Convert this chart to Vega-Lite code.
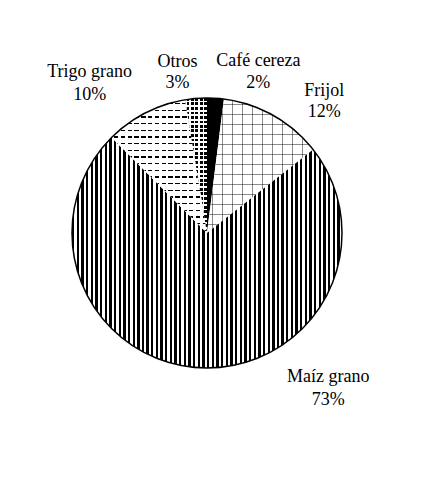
{
  "$schema": "https://vega.github.io/schema/vega-lite/v6.json",
  "autosize": "none",
  "width": 414,
  "height": 466,
  "padding": {"left": 0, "top": 0, "right": 31, "bottom": 20},
  "background": "white",
  "config": {"view": {"stroke": null}},
  "data": {"values": [
    {"cat": "Café cereza", "share": 0.02, "orden": 1},
    {"cat": "Frijol", "share": 0.124, "orden": 2},
    {"cat": "Maíz grano", "share": 0.731, "orden": 3},
    {"cat": "Trigo grano", "share": 0.099, "orden": 4},
    {"cat": "Otros", "share": 0.026, "orden": 5}
  ]},
  "layer": [
    {
      "mark": {"type": "arc", "outerRadius": 135},
      "encoding": {
        "theta": {"field": "share", "type": "quantitative", "stack": true},
        "order": {"field": "orden", "type": "quantitative"},
        "detail": {"field": "cat", "type": "nominal"},
        "fill": {
          "condition": [
            {"test": "datum.cat === 'Café cereza'", "value": "#000"},
            {"test": "datum.cat === 'Maíz grano'", "value": {"gradient": "linear", "x1": 0, "y1": 0, "x2": 1, "y2": 0, "stops": [
              {"offset": 0, "color": "#000"}, {"offset": 0.00862, "color": "#000"}, {"offset": 0.00862, "color": "#fff"}, {"offset": 0.01724, "color": "#fff"},
              {"offset": 0.01724, "color": "#000"}, {"offset": 0.02586, "color": "#000"}, {"offset": 0.02586, "color": "#fff"}, {"offset": 0.03448, "color": "#fff"},
              {"offset": 0.03448, "color": "#000"}, {"offset": 0.0431, "color": "#000"}, {"offset": 0.0431, "color": "#fff"}, {"offset": 0.05172, "color": "#fff"},
              {"offset": 0.05172, "color": "#000"}, {"offset": 0.06034, "color": "#000"}, {"offset": 0.06034, "color": "#fff"}, {"offset": 0.06897, "color": "#fff"},
              {"offset": 0.06897, "color": "#000"}, {"offset": 0.07759, "color": "#000"}, {"offset": 0.07759, "color": "#fff"}, {"offset": 0.08621, "color": "#fff"},
              {"offset": 0.08621, "color": "#000"}, {"offset": 0.09483, "color": "#000"}, {"offset": 0.09483, "color": "#fff"}, {"offset": 0.10345, "color": "#fff"},
              {"offset": 0.10345, "color": "#000"}, {"offset": 0.11207, "color": "#000"}, {"offset": 0.11207, "color": "#fff"}, {"offset": 0.12069, "color": "#fff"},
              {"offset": 0.12069, "color": "#000"}, {"offset": 0.12931, "color": "#000"}, {"offset": 0.12931, "color": "#fff"}, {"offset": 0.13793, "color": "#fff"},
              {"offset": 0.13793, "color": "#000"}, {"offset": 0.14655, "color": "#000"}, {"offset": 0.14655, "color": "#fff"}, {"offset": 0.15517, "color": "#fff"},
              {"offset": 0.15517, "color": "#000"}, {"offset": 0.16379, "color": "#000"}, {"offset": 0.16379, "color": "#fff"}, {"offset": 0.17241, "color": "#fff"},
              {"offset": 0.17241, "color": "#000"}, {"offset": 0.18103, "color": "#000"}, {"offset": 0.18103, "color": "#fff"}, {"offset": 0.18966, "color": "#fff"},
              {"offset": 0.18966, "color": "#000"}, {"offset": 0.19828, "color": "#000"}, {"offset": 0.19828, "color": "#fff"}, {"offset": 0.2069, "color": "#fff"},
              {"offset": 0.2069, "color": "#000"}, {"offset": 0.21552, "color": "#000"}, {"offset": 0.21552, "color": "#fff"}, {"offset": 0.22414, "color": "#fff"},
              {"offset": 0.22414, "color": "#000"}, {"offset": 0.23276, "color": "#000"}, {"offset": 0.23276, "color": "#fff"}, {"offset": 0.24138, "color": "#fff"},
              {"offset": 0.24138, "color": "#000"}, {"offset": 0.25, "color": "#000"}, {"offset": 0.25, "color": "#fff"}, {"offset": 0.25862, "color": "#fff"},
              {"offset": 0.25862, "color": "#000"}, {"offset": 0.26724, "color": "#000"}, {"offset": 0.26724, "color": "#fff"}, {"offset": 0.27586, "color": "#fff"},
              {"offset": 0.27586, "color": "#000"}, {"offset": 0.28448, "color": "#000"}, {"offset": 0.28448, "color": "#fff"}, {"offset": 0.2931, "color": "#fff"},
              {"offset": 0.2931, "color": "#000"}, {"offset": 0.30172, "color": "#000"}, {"offset": 0.30172, "color": "#fff"}, {"offset": 0.31034, "color": "#fff"},
              {"offset": 0.31034, "color": "#000"}, {"offset": 0.31897, "color": "#000"}, {"offset": 0.31897, "color": "#fff"}, {"offset": 0.32759, "color": "#fff"},
              {"offset": 0.32759, "color": "#000"}, {"offset": 0.33621, "color": "#000"}, {"offset": 0.33621, "color": "#fff"}, {"offset": 0.34483, "color": "#fff"},
              {"offset": 0.34483, "color": "#000"}, {"offset": 0.35345, "color": "#000"}, {"offset": 0.35345, "color": "#fff"}, {"offset": 0.36207, "color": "#fff"},
              {"offset": 0.36207, "color": "#000"}, {"offset": 0.37069, "color": "#000"}, {"offset": 0.37069, "color": "#fff"}, {"offset": 0.37931, "color": "#fff"},
              {"offset": 0.37931, "color": "#000"}, {"offset": 0.38793, "color": "#000"}, {"offset": 0.38793, "color": "#fff"}, {"offset": 0.39655, "color": "#fff"},
              {"offset": 0.39655, "color": "#000"}, {"offset": 0.40517, "color": "#000"}, {"offset": 0.40517, "color": "#fff"}, {"offset": 0.41379, "color": "#fff"},
              {"offset": 0.41379, "color": "#000"}, {"offset": 0.42241, "color": "#000"}, {"offset": 0.42241, "color": "#fff"}, {"offset": 0.43103, "color": "#fff"},
              {"offset": 0.43103, "color": "#000"}, {"offset": 0.43966, "color": "#000"}, {"offset": 0.43966, "color": "#fff"}, {"offset": 0.44828, "color": "#fff"},
              {"offset": 0.44828, "color": "#000"}, {"offset": 0.4569, "color": "#000"}, {"offset": 0.4569, "color": "#fff"}, {"offset": 0.46552, "color": "#fff"},
              {"offset": 0.46552, "color": "#000"}, {"offset": 0.47414, "color": "#000"}, {"offset": 0.47414, "color": "#fff"}, {"offset": 0.48276, "color": "#fff"},
              {"offset": 0.48276, "color": "#000"}, {"offset": 0.49138, "color": "#000"}, {"offset": 0.49138, "color": "#fff"}, {"offset": 0.5, "color": "#fff"},
              {"offset": 0.5, "color": "#000"}, {"offset": 0.50862, "color": "#000"}, {"offset": 0.50862, "color": "#fff"}, {"offset": 0.51724, "color": "#fff"},
              {"offset": 0.51724, "color": "#000"}, {"offset": 0.52586, "color": "#000"}, {"offset": 0.52586, "color": "#fff"}, {"offset": 0.53448, "color": "#fff"},
              {"offset": 0.53448, "color": "#000"}, {"offset": 0.5431, "color": "#000"}, {"offset": 0.5431, "color": "#fff"}, {"offset": 0.55172, "color": "#fff"},
              {"offset": 0.55172, "color": "#000"}, {"offset": 0.56034, "color": "#000"}, {"offset": 0.56034, "color": "#fff"}, {"offset": 0.56897, "color": "#fff"},
              {"offset": 0.56897, "color": "#000"}, {"offset": 0.57759, "color": "#000"}, {"offset": 0.57759, "color": "#fff"}, {"offset": 0.58621, "color": "#fff"},
              {"offset": 0.58621, "color": "#000"}, {"offset": 0.59483, "color": "#000"}, {"offset": 0.59483, "color": "#fff"}, {"offset": 0.60345, "color": "#fff"},
              {"offset": 0.60345, "color": "#000"}, {"offset": 0.61207, "color": "#000"}, {"offset": 0.61207, "color": "#fff"}, {"offset": 0.62069, "color": "#fff"},
              {"offset": 0.62069, "color": "#000"}, {"offset": 0.62931, "color": "#000"}, {"offset": 0.62931, "color": "#fff"}, {"offset": 0.63793, "color": "#fff"},
              {"offset": 0.63793, "color": "#000"}, {"offset": 0.64655, "color": "#000"}, {"offset": 0.64655, "color": "#fff"}, {"offset": 0.65517, "color": "#fff"},
              {"offset": 0.65517, "color": "#000"}, {"offset": 0.66379, "color": "#000"}, {"offset": 0.66379, "color": "#fff"}, {"offset": 0.67241, "color": "#fff"},
              {"offset": 0.67241, "color": "#000"}, {"offset": 0.68103, "color": "#000"}, {"offset": 0.68103, "color": "#fff"}, {"offset": 0.68966, "color": "#fff"},
              {"offset": 0.68966, "color": "#000"}, {"offset": 0.69828, "color": "#000"}, {"offset": 0.69828, "color": "#fff"}, {"offset": 0.7069, "color": "#fff"},
              {"offset": 0.7069, "color": "#000"}, {"offset": 0.71552, "color": "#000"}, {"offset": 0.71552, "color": "#fff"}, {"offset": 0.72414, "color": "#fff"},
              {"offset": 0.72414, "color": "#000"}, {"offset": 0.73276, "color": "#000"}, {"offset": 0.73276, "color": "#fff"}, {"offset": 0.74138, "color": "#fff"},
              {"offset": 0.74138, "color": "#000"}, {"offset": 0.75, "color": "#000"}, {"offset": 0.75, "color": "#fff"}, {"offset": 0.75862, "color": "#fff"},
              {"offset": 0.75862, "color": "#000"}, {"offset": 0.76724, "color": "#000"}, {"offset": 0.76724, "color": "#fff"}, {"offset": 0.77586, "color": "#fff"},
              {"offset": 0.77586, "color": "#000"}, {"offset": 0.78448, "color": "#000"}, {"offset": 0.78448, "color": "#fff"}, {"offset": 0.7931, "color": "#fff"},
              {"offset": 0.7931, "color": "#000"}, {"offset": 0.80172, "color": "#000"}, {"offset": 0.80172, "color": "#fff"}, {"offset": 0.81034, "color": "#fff"},
              {"offset": 0.81034, "color": "#000"}, {"offset": 0.81897, "color": "#000"}, {"offset": 0.81897, "color": "#fff"}, {"offset": 0.82759, "color": "#fff"},
              {"offset": 0.82759, "color": "#000"}, {"offset": 0.83621, "color": "#000"}, {"offset": 0.83621, "color": "#fff"}, {"offset": 0.84483, "color": "#fff"},
              {"offset": 0.84483, "color": "#000"}, {"offset": 0.85345, "color": "#000"}, {"offset": 0.85345, "color": "#fff"}, {"offset": 0.86207, "color": "#fff"},
              {"offset": 0.86207, "color": "#000"}, {"offset": 0.87069, "color": "#000"}, {"offset": 0.87069, "color": "#fff"}, {"offset": 0.87931, "color": "#fff"},
              {"offset": 0.87931, "color": "#000"}, {"offset": 0.88793, "color": "#000"}, {"offset": 0.88793, "color": "#fff"}, {"offset": 0.89655, "color": "#fff"},
              {"offset": 0.89655, "color": "#000"}, {"offset": 0.90517, "color": "#000"}, {"offset": 0.90517, "color": "#fff"}, {"offset": 0.91379, "color": "#fff"},
              {"offset": 0.91379, "color": "#000"}, {"offset": 0.92241, "color": "#000"}, {"offset": 0.92241, "color": "#fff"}, {"offset": 0.93103, "color": "#fff"},
              {"offset": 0.93103, "color": "#000"}, {"offset": 0.93966, "color": "#000"}, {"offset": 0.93966, "color": "#fff"}, {"offset": 0.94828, "color": "#fff"},
              {"offset": 0.94828, "color": "#000"}, {"offset": 0.9569, "color": "#000"}, {"offset": 0.9569, "color": "#fff"}, {"offset": 0.96552, "color": "#fff"},
              {"offset": 0.96552, "color": "#000"}, {"offset": 0.97414, "color": "#000"}, {"offset": 0.97414, "color": "#fff"}, {"offset": 0.98276, "color": "#fff"},
              {"offset": 0.98276, "color": "#000"}, {"offset": 0.99138, "color": "#000"}, {"offset": 0.99138, "color": "#fff"}, {"offset": 1, "color": "#fff"}
            ]}}
          ],
          "value": "#fff"
        }
      }
    },
    {
      "mark": {"type": "arc", "outerRadius": 135},
      "encoding": {
        "theta": {"field": "share", "type": "quantitative", "stack": true},
        "order": {"field": "orden", "type": "quantitative"},
        "detail": {"field": "cat", "type": "nominal"},
        "fill": {
          "condition": [
            {"test": "datum.cat === 'Frijol'", "value": {"gradient": "linear", "x1": 0, "y1": 0, "x2": 1, "y2": 0, "stops": [
              {"offset": 0.0471, "color": "rgba(0,0,0,0)"}, {"offset": 0.0471, "color": "rgba(0,0,0,0.45)"}, {"offset": 0.0565, "color": "rgba(0,0,0,0.45)"}, {"offset": 0.0565, "color": "rgba(0,0,0,0)"},
              {"offset": 0.1412, "color": "rgba(0,0,0,0)"}, {"offset": 0.1412, "color": "rgba(0,0,0,0.45)"}, {"offset": 0.1506, "color": "rgba(0,0,0,0.45)"}, {"offset": 0.1506, "color": "rgba(0,0,0,0)"},
              {"offset": 0.2354, "color": "rgba(0,0,0,0)"}, {"offset": 0.2354, "color": "rgba(0,0,0,0.45)"}, {"offset": 0.2448, "color": "rgba(0,0,0,0.45)"}, {"offset": 0.2448, "color": "rgba(0,0,0,0)"},
              {"offset": 0.3296, "color": "rgba(0,0,0,0)"}, {"offset": 0.3296, "color": "rgba(0,0,0,0.45)"}, {"offset": 0.339, "color": "rgba(0,0,0,0.45)"}, {"offset": 0.339, "color": "rgba(0,0,0,0)"},
              {"offset": 0.4237, "color": "rgba(0,0,0,0)"}, {"offset": 0.4237, "color": "rgba(0,0,0,0.45)"}, {"offset": 0.4331, "color": "rgba(0,0,0,0.45)"}, {"offset": 0.4331, "color": "rgba(0,0,0,0)"},
              {"offset": 0.5179, "color": "rgba(0,0,0,0)"}, {"offset": 0.5179, "color": "rgba(0,0,0,0.45)"}, {"offset": 0.5273, "color": "rgba(0,0,0,0.45)"}, {"offset": 0.5273, "color": "rgba(0,0,0,0)"},
              {"offset": 0.6121, "color": "rgba(0,0,0,0)"}, {"offset": 0.6121, "color": "rgba(0,0,0,0.45)"}, {"offset": 0.6215, "color": "rgba(0,0,0,0.45)"}, {"offset": 0.6215, "color": "rgba(0,0,0,0)"},
              {"offset": 0.7062, "color": "rgba(0,0,0,0)"}, {"offset": 0.7062, "color": "rgba(0,0,0,0.45)"}, {"offset": 0.7156, "color": "rgba(0,0,0,0.45)"}, {"offset": 0.7156, "color": "rgba(0,0,0,0)"},
              {"offset": 0.8004, "color": "rgba(0,0,0,0)"}, {"offset": 0.8004, "color": "rgba(0,0,0,0.45)"}, {"offset": 0.8098, "color": "rgba(0,0,0,0.45)"}, {"offset": 0.8098, "color": "rgba(0,0,0,0)"},
              {"offset": 0.8945, "color": "rgba(0,0,0,0)"}, {"offset": 0.8945, "color": "rgba(0,0,0,0.45)"}, {"offset": 0.9039, "color": "rgba(0,0,0,0.45)"}, {"offset": 0.9039, "color": "rgba(0,0,0,0)"},
              {"offset": 0.9887, "color": "rgba(0,0,0,0)"}, {"offset": 0.9887, "color": "rgba(0,0,0,0.45)"}, {"offset": 0.9981, "color": "rgba(0,0,0,0.45)"}, {"offset": 0.9981, "color": "rgba(0,0,0,0)"}
            ]}},
            {"test": "datum.cat === 'Trigo grano'", "value": {"gradient": "linear", "x1": 0, "y1": 0, "x2": 0, "y2": 1, "stops": [
              {"offset": 0.025, "color": "rgba(0,0,0,0)"}, {"offset": 0.025, "color": "#000"}, {"offset": 0.035, "color": "#000"}, {"offset": 0.035, "color": "rgba(0,0,0,0)"},
              {"offset": 0.075, "color": "rgba(0,0,0,0)"}, {"offset": 0.075, "color": "#000"}, {"offset": 0.085, "color": "#000"}, {"offset": 0.085, "color": "rgba(0,0,0,0)"},
              {"offset": 0.125, "color": "rgba(0,0,0,0)"}, {"offset": 0.125, "color": "#000"}, {"offset": 0.135, "color": "#000"}, {"offset": 0.135, "color": "rgba(0,0,0,0)"},
              {"offset": 0.175, "color": "rgba(0,0,0,0)"}, {"offset": 0.175, "color": "#000"}, {"offset": 0.185, "color": "#000"}, {"offset": 0.185, "color": "rgba(0,0,0,0)"},
              {"offset": 0.225, "color": "rgba(0,0,0,0)"}, {"offset": 0.225, "color": "#000"}, {"offset": 0.235, "color": "#000"}, {"offset": 0.235, "color": "rgba(0,0,0,0)"},
              {"offset": 0.275, "color": "rgba(0,0,0,0)"}, {"offset": 0.275, "color": "#000"}, {"offset": 0.285, "color": "#000"}, {"offset": 0.285, "color": "rgba(0,0,0,0)"},
              {"offset": 0.325, "color": "rgba(0,0,0,0)"}, {"offset": 0.325, "color": "#000"}, {"offset": 0.335, "color": "#000"}, {"offset": 0.335, "color": "rgba(0,0,0,0)"},
              {"offset": 0.375, "color": "rgba(0,0,0,0)"}, {"offset": 0.375, "color": "#000"}, {"offset": 0.385, "color": "#000"}, {"offset": 0.385, "color": "rgba(0,0,0,0)"},
              {"offset": 0.425, "color": "rgba(0,0,0,0)"}, {"offset": 0.425, "color": "#000"}, {"offset": 0.435, "color": "#000"}, {"offset": 0.435, "color": "rgba(0,0,0,0)"},
              {"offset": 0.475, "color": "rgba(0,0,0,0)"}, {"offset": 0.475, "color": "#000"}, {"offset": 0.485, "color": "#000"}, {"offset": 0.485, "color": "rgba(0,0,0,0)"},
              {"offset": 0.525, "color": "rgba(0,0,0,0)"}, {"offset": 0.525, "color": "#000"}, {"offset": 0.535, "color": "#000"}, {"offset": 0.535, "color": "rgba(0,0,0,0)"},
              {"offset": 0.575, "color": "rgba(0,0,0,0)"}, {"offset": 0.575, "color": "#000"}, {"offset": 0.585, "color": "#000"}, {"offset": 0.585, "color": "rgba(0,0,0,0)"},
              {"offset": 0.625, "color": "rgba(0,0,0,0)"}, {"offset": 0.625, "color": "#000"}, {"offset": 0.635, "color": "#000"}, {"offset": 0.635, "color": "rgba(0,0,0,0)"},
              {"offset": 0.675, "color": "rgba(0,0,0,0)"}, {"offset": 0.675, "color": "#000"}, {"offset": 0.685, "color": "#000"}, {"offset": 0.685, "color": "rgba(0,0,0,0)"},
              {"offset": 0.725, "color": "rgba(0,0,0,0)"}, {"offset": 0.725, "color": "#000"}, {"offset": 0.735, "color": "#000"}, {"offset": 0.735, "color": "rgba(0,0,0,0)"},
              {"offset": 0.775, "color": "rgba(0,0,0,0)"}, {"offset": 0.775, "color": "#000"}, {"offset": 0.785, "color": "#000"}, {"offset": 0.785, "color": "rgba(0,0,0,0)"},
              {"offset": 0.825, "color": "rgba(0,0,0,0)"}, {"offset": 0.825, "color": "#000"}, {"offset": 0.835, "color": "#000"}, {"offset": 0.835, "color": "rgba(0,0,0,0)"},
              {"offset": 0.875, "color": "rgba(0,0,0,0)"}, {"offset": 0.875, "color": "#000"}, {"offset": 0.885, "color": "#000"}, {"offset": 0.885, "color": "rgba(0,0,0,0)"},
              {"offset": 0.925, "color": "rgba(0,0,0,0)"}, {"offset": 0.925, "color": "#000"}, {"offset": 0.935, "color": "#000"}, {"offset": 0.935, "color": "rgba(0,0,0,0)"},
              {"offset": 0.975, "color": "rgba(0,0,0,0)"}, {"offset": 0.975, "color": "#000"}, {"offset": 0.985, "color": "#000"}, {"offset": 0.985, "color": "rgba(0,0,0,0)"}
            ]}},
            {"test": "datum.cat === 'Otros'", "value": {"gradient": "linear", "x1": 0, "y1": 0, "x2": 0, "y2": 1, "stops": [
              {"offset": 0, "color": "#000"}, {"offset": 0.022, "color": "#000"}, {"offset": 0.022, "color": "rgba(0,0,0,0)"},
              {"offset": 0.03333, "color": "rgba(0,0,0,0)"}, {"offset": 0.03333, "color": "#000"}, {"offset": 0.05533, "color": "#000"}, {"offset": 0.05533, "color": "rgba(0,0,0,0)"},
              {"offset": 0.06667, "color": "rgba(0,0,0,0)"}, {"offset": 0.06667, "color": "#000"}, {"offset": 0.08867, "color": "#000"}, {"offset": 0.08867, "color": "rgba(0,0,0,0)"},
              {"offset": 0.1, "color": "rgba(0,0,0,0)"}, {"offset": 0.1, "color": "#000"}, {"offset": 0.122, "color": "#000"}, {"offset": 0.122, "color": "rgba(0,0,0,0)"},
              {"offset": 0.13333, "color": "rgba(0,0,0,0)"}, {"offset": 0.13333, "color": "#000"}, {"offset": 0.15533, "color": "#000"}, {"offset": 0.15533, "color": "rgba(0,0,0,0)"},
              {"offset": 0.16667, "color": "rgba(0,0,0,0)"}, {"offset": 0.16667, "color": "#000"}, {"offset": 0.18867, "color": "#000"}, {"offset": 0.18867, "color": "rgba(0,0,0,0)"},
              {"offset": 0.2, "color": "rgba(0,0,0,0)"}, {"offset": 0.2, "color": "#000"}, {"offset": 0.222, "color": "#000"}, {"offset": 0.222, "color": "rgba(0,0,0,0)"},
              {"offset": 0.23333, "color": "rgba(0,0,0,0)"}, {"offset": 0.23333, "color": "#000"}, {"offset": 0.25533, "color": "#000"}, {"offset": 0.25533, "color": "rgba(0,0,0,0)"},
              {"offset": 0.26667, "color": "rgba(0,0,0,0)"}, {"offset": 0.26667, "color": "#000"}, {"offset": 0.28867, "color": "#000"}, {"offset": 0.28867, "color": "rgba(0,0,0,0)"},
              {"offset": 0.3, "color": "rgba(0,0,0,0)"}, {"offset": 0.3, "color": "#000"}, {"offset": 0.322, "color": "#000"}, {"offset": 0.322, "color": "rgba(0,0,0,0)"},
              {"offset": 0.33333, "color": "rgba(0,0,0,0)"}, {"offset": 0.33333, "color": "#000"}, {"offset": 0.35533, "color": "#000"}, {"offset": 0.35533, "color": "rgba(0,0,0,0)"},
              {"offset": 0.36667, "color": "rgba(0,0,0,0)"}, {"offset": 0.36667, "color": "#000"}, {"offset": 0.38867, "color": "#000"}, {"offset": 0.38867, "color": "rgba(0,0,0,0)"},
              {"offset": 0.4, "color": "rgba(0,0,0,0)"}, {"offset": 0.4, "color": "#000"}, {"offset": 0.422, "color": "#000"}, {"offset": 0.422, "color": "rgba(0,0,0,0)"},
              {"offset": 0.43333, "color": "rgba(0,0,0,0)"}, {"offset": 0.43333, "color": "#000"}, {"offset": 0.45533, "color": "#000"}, {"offset": 0.45533, "color": "rgba(0,0,0,0)"},
              {"offset": 0.46667, "color": "rgba(0,0,0,0)"}, {"offset": 0.46667, "color": "#000"}, {"offset": 0.48867, "color": "#000"}, {"offset": 0.48867, "color": "rgba(0,0,0,0)"},
              {"offset": 0.5, "color": "rgba(0,0,0,0)"}, {"offset": 0.5, "color": "#000"}, {"offset": 0.522, "color": "#000"}, {"offset": 0.522, "color": "rgba(0,0,0,0)"},
              {"offset": 0.53333, "color": "rgba(0,0,0,0)"}, {"offset": 0.53333, "color": "#000"}, {"offset": 0.55533, "color": "#000"}, {"offset": 0.55533, "color": "rgba(0,0,0,0)"},
              {"offset": 0.56667, "color": "rgba(0,0,0,0)"}, {"offset": 0.56667, "color": "#000"}, {"offset": 0.58867, "color": "#000"}, {"offset": 0.58867, "color": "rgba(0,0,0,0)"},
              {"offset": 0.6, "color": "rgba(0,0,0,0)"}, {"offset": 0.6, "color": "#000"}, {"offset": 0.622, "color": "#000"}, {"offset": 0.622, "color": "rgba(0,0,0,0)"},
              {"offset": 0.63333, "color": "rgba(0,0,0,0)"}, {"offset": 0.63333, "color": "#000"}, {"offset": 0.65533, "color": "#000"}, {"offset": 0.65533, "color": "rgba(0,0,0,0)"},
              {"offset": 0.66667, "color": "rgba(0,0,0,0)"}, {"offset": 0.66667, "color": "#000"}, {"offset": 0.68867, "color": "#000"}, {"offset": 0.68867, "color": "rgba(0,0,0,0)"},
              {"offset": 0.7, "color": "rgba(0,0,0,0)"}, {"offset": 0.7, "color": "#000"}, {"offset": 0.722, "color": "#000"}, {"offset": 0.722, "color": "rgba(0,0,0,0)"},
              {"offset": 0.73333, "color": "rgba(0,0,0,0)"}, {"offset": 0.73333, "color": "#000"}, {"offset": 0.75533, "color": "#000"}, {"offset": 0.75533, "color": "rgba(0,0,0,0)"},
              {"offset": 0.76667, "color": "rgba(0,0,0,0)"}, {"offset": 0.76667, "color": "#000"}, {"offset": 0.78867, "color": "#000"}, {"offset": 0.78867, "color": "rgba(0,0,0,0)"},
              {"offset": 0.8, "color": "rgba(0,0,0,0)"}, {"offset": 0.8, "color": "#000"}, {"offset": 0.822, "color": "#000"}, {"offset": 0.822, "color": "rgba(0,0,0,0)"},
              {"offset": 0.83333, "color": "rgba(0,0,0,0)"}, {"offset": 0.83333, "color": "#000"}, {"offset": 0.85533, "color": "#000"}, {"offset": 0.85533, "color": "rgba(0,0,0,0)"},
              {"offset": 0.86667, "color": "rgba(0,0,0,0)"}, {"offset": 0.86667, "color": "#000"}, {"offset": 0.88867, "color": "#000"}, {"offset": 0.88867, "color": "rgba(0,0,0,0)"},
              {"offset": 0.9, "color": "rgba(0,0,0,0)"}, {"offset": 0.9, "color": "#000"}, {"offset": 0.922, "color": "#000"}, {"offset": 0.922, "color": "rgba(0,0,0,0)"},
              {"offset": 0.93333, "color": "rgba(0,0,0,0)"}, {"offset": 0.93333, "color": "#000"}, {"offset": 0.95533, "color": "#000"}, {"offset": 0.95533, "color": "rgba(0,0,0,0)"},
              {"offset": 0.96667, "color": "rgba(0,0,0,0)"}, {"offset": 0.96667, "color": "#000"}, {"offset": 0.98867, "color": "#000"}, {"offset": 0.98867, "color": "rgba(0,0,0,0)"}
            ]}}
          ],
          "value": "transparent"
        }
      }
    },
    {
      "mark": {"type": "arc", "outerRadius": 135},
      "encoding": {
        "theta": {"field": "share", "type": "quantitative", "stack": true},
        "order": {"field": "orden", "type": "quantitative"},
        "detail": {"field": "cat", "type": "nominal"},
        "fill": {
          "condition": [
            {"test": "datum.cat === 'Frijol'", "value": {"gradient": "linear", "x1": 0, "y1": 0, "x2": 0, "y2": 1, "stops": [
              {"offset": 0.0373, "color": "rgba(0,0,0,0)"}, {"offset": 0.0373, "color": "rgba(0,0,0,0.45)"}, {"offset": 0.0448, "color": "rgba(0,0,0,0.45)"}, {"offset": 0.0448, "color": "rgba(0,0,0,0)"},
              {"offset": 0.112, "color": "rgba(0,0,0,0)"}, {"offset": 0.112, "color": "rgba(0,0,0,0.45)"}, {"offset": 0.1195, "color": "rgba(0,0,0,0.45)"}, {"offset": 0.1195, "color": "rgba(0,0,0,0)"},
              {"offset": 0.1867, "color": "rgba(0,0,0,0)"}, {"offset": 0.1867, "color": "rgba(0,0,0,0.45)"}, {"offset": 0.1942, "color": "rgba(0,0,0,0.45)"}, {"offset": 0.1942, "color": "rgba(0,0,0,0)"},
              {"offset": 0.2614, "color": "rgba(0,0,0,0)"}, {"offset": 0.2614, "color": "rgba(0,0,0,0.45)"}, {"offset": 0.2689, "color": "rgba(0,0,0,0.45)"}, {"offset": 0.2689, "color": "rgba(0,0,0,0)"},
              {"offset": 0.3361, "color": "rgba(0,0,0,0)"}, {"offset": 0.3361, "color": "rgba(0,0,0,0.45)"}, {"offset": 0.3436, "color": "rgba(0,0,0,0.45)"}, {"offset": 0.3436, "color": "rgba(0,0,0,0)"},
              {"offset": 0.4108, "color": "rgba(0,0,0,0)"}, {"offset": 0.4108, "color": "rgba(0,0,0,0.45)"}, {"offset": 0.4183, "color": "rgba(0,0,0,0.45)"}, {"offset": 0.4183, "color": "rgba(0,0,0,0)"},
              {"offset": 0.4854, "color": "rgba(0,0,0,0)"}, {"offset": 0.4854, "color": "rgba(0,0,0,0.45)"}, {"offset": 0.4929, "color": "rgba(0,0,0,0.45)"}, {"offset": 0.4929, "color": "rgba(0,0,0,0)"},
              {"offset": 0.5601, "color": "rgba(0,0,0,0)"}, {"offset": 0.5601, "color": "rgba(0,0,0,0.45)"}, {"offset": 0.5676, "color": "rgba(0,0,0,0.45)"}, {"offset": 0.5676, "color": "rgba(0,0,0,0)"},
              {"offset": 0.6348, "color": "rgba(0,0,0,0)"}, {"offset": 0.6348, "color": "rgba(0,0,0,0.45)"}, {"offset": 0.6423, "color": "rgba(0,0,0,0.45)"}, {"offset": 0.6423, "color": "rgba(0,0,0,0)"},
              {"offset": 0.7095, "color": "rgba(0,0,0,0)"}, {"offset": 0.7095, "color": "rgba(0,0,0,0.45)"}, {"offset": 0.717, "color": "rgba(0,0,0,0.45)"}, {"offset": 0.717, "color": "rgba(0,0,0,0)"},
              {"offset": 0.7842, "color": "rgba(0,0,0,0)"}, {"offset": 0.7842, "color": "rgba(0,0,0,0.45)"}, {"offset": 0.7917, "color": "rgba(0,0,0,0.45)"}, {"offset": 0.7917, "color": "rgba(0,0,0,0)"},
              {"offset": 0.8589, "color": "rgba(0,0,0,0)"}, {"offset": 0.8589, "color": "rgba(0,0,0,0.45)"}, {"offset": 0.8664, "color": "rgba(0,0,0,0.45)"}, {"offset": 0.8664, "color": "rgba(0,0,0,0)"},
              {"offset": 0.9335, "color": "rgba(0,0,0,0)"}, {"offset": 0.9335, "color": "rgba(0,0,0,0.45)"}, {"offset": 0.941, "color": "rgba(0,0,0,0.45)"}, {"offset": 0.941, "color": "rgba(0,0,0,0)"}
            ]}},
            {"test": "datum.cat === 'Trigo grano'", "value": {"gradient": "linear", "x1": 0, "y1": 0, "x2": 1, "y2": 0, "stops": [
              {"offset": 0, "color": "#fff"}, {"offset": 0.025, "color": "#fff"}, {"offset": 0.025, "color": "rgba(255,255,255,0)"},
              {"offset": 0.07143, "color": "rgba(255,255,255,0)"}, {"offset": 0.07143, "color": "#fff"}, {"offset": 0.09643, "color": "#fff"}, {"offset": 0.09643, "color": "rgba(255,255,255,0)"},
              {"offset": 0.14286, "color": "rgba(255,255,255,0)"}, {"offset": 0.14286, "color": "#fff"}, {"offset": 0.16786, "color": "#fff"}, {"offset": 0.16786, "color": "rgba(255,255,255,0)"},
              {"offset": 0.21429, "color": "rgba(255,255,255,0)"}, {"offset": 0.21429, "color": "#fff"}, {"offset": 0.23929, "color": "#fff"}, {"offset": 0.23929, "color": "rgba(255,255,255,0)"},
              {"offset": 0.28571, "color": "rgba(255,255,255,0)"}, {"offset": 0.28571, "color": "#fff"}, {"offset": 0.31071, "color": "#fff"}, {"offset": 0.31071, "color": "rgba(255,255,255,0)"},
              {"offset": 0.35714, "color": "rgba(255,255,255,0)"}, {"offset": 0.35714, "color": "#fff"}, {"offset": 0.38214, "color": "#fff"}, {"offset": 0.38214, "color": "rgba(255,255,255,0)"},
              {"offset": 0.42857, "color": "rgba(255,255,255,0)"}, {"offset": 0.42857, "color": "#fff"}, {"offset": 0.45357, "color": "#fff"}, {"offset": 0.45357, "color": "rgba(255,255,255,0)"},
              {"offset": 0.5, "color": "rgba(255,255,255,0)"}, {"offset": 0.5, "color": "#fff"}, {"offset": 0.525, "color": "#fff"}, {"offset": 0.525, "color": "rgba(255,255,255,0)"},
              {"offset": 0.57143, "color": "rgba(255,255,255,0)"}, {"offset": 0.57143, "color": "#fff"}, {"offset": 0.59643, "color": "#fff"}, {"offset": 0.59643, "color": "rgba(255,255,255,0)"},
              {"offset": 0.64286, "color": "rgba(255,255,255,0)"}, {"offset": 0.64286, "color": "#fff"}, {"offset": 0.66786, "color": "#fff"}, {"offset": 0.66786, "color": "rgba(255,255,255,0)"},
              {"offset": 0.71429, "color": "rgba(255,255,255,0)"}, {"offset": 0.71429, "color": "#fff"}, {"offset": 0.73929, "color": "#fff"}, {"offset": 0.73929, "color": "rgba(255,255,255,0)"},
              {"offset": 0.78571, "color": "rgba(255,255,255,0)"}, {"offset": 0.78571, "color": "#fff"}, {"offset": 0.81071, "color": "#fff"}, {"offset": 0.81071, "color": "rgba(255,255,255,0)"},
              {"offset": 0.85714, "color": "rgba(255,255,255,0)"}, {"offset": 0.85714, "color": "#fff"}, {"offset": 0.88214, "color": "#fff"}, {"offset": 0.88214, "color": "rgba(255,255,255,0)"},
              {"offset": 0.92857, "color": "rgba(255,255,255,0)"}, {"offset": 0.92857, "color": "#fff"}, {"offset": 0.95357, "color": "#fff"}, {"offset": 0.95357, "color": "rgba(255,255,255,0)"}
            ]}},
            {"test": "datum.cat === 'Otros'", "value": {"gradient": "linear", "x1": 0, "y1": 0, "x2": 1, "y2": 0, "stops": [
              {"offset": 0, "color": "#fff"}, {"offset": 0.07, "color": "#fff"}, {"offset": 0.07, "color": "rgba(255,255,255,0)"},
              {"offset": 0.2, "color": "rgba(255,255,255,0)"}, {"offset": 0.2, "color": "#fff"}, {"offset": 0.27, "color": "#fff"}, {"offset": 0.27, "color": "rgba(255,255,255,0)"},
              {"offset": 0.4, "color": "rgba(255,255,255,0)"}, {"offset": 0.4, "color": "#fff"}, {"offset": 0.47, "color": "#fff"}, {"offset": 0.47, "color": "rgba(255,255,255,0)"},
              {"offset": 0.6, "color": "rgba(255,255,255,0)"}, {"offset": 0.6, "color": "#fff"}, {"offset": 0.67, "color": "#fff"}, {"offset": 0.67, "color": "rgba(255,255,255,0)"},
              {"offset": 0.8, "color": "rgba(255,255,255,0)"}, {"offset": 0.8, "color": "#fff"}, {"offset": 0.87, "color": "#fff"}, {"offset": 0.87, "color": "rgba(255,255,255,0)"}
            ]}}
          ],
          "value": "transparent"
        }
      }
    },
    {
      "mark": {"type": "arc", "outerRadius": 135, "fill": null, "stroke": "#000", "strokeWidth": 1.5},
      "encoding": {
        "theta": {"aggregate": "sum", "field": "share", "type": "quantitative"}
      }
    },
    {
      "mark": {
        "type": "text", "radius": 165, "font": "Liberation Serif", "fontSize": 18, "color": "#000",
        "align": "center", "baseline": "alphabetic",
        "dx": {"expr": "datum.cat === 'Café cereza' ? 41 : datum.cat === 'Frijol' ? 36 : datum.cat === 'Maíz grano' ? 131 : datum.cat === 'Trigo grano' ? -42 : -16"},
        "dy": {"expr": "datum.cat === 'Café cereza' ? -2 : datum.cat === 'Frijol' ? 7 : datum.cat === 'Maíz grano' ? -16 : datum.cat === 'Trigo grano' ? -9 : -2"}
      },
      "encoding": {
        "theta": {"field": "share", "type": "quantitative", "stack": true},
        "order": {"field": "orden", "type": "quantitative"},
        "detail": {"field": "cat", "type": "nominal"},
        "text": {"field": "cat", "type": "nominal"}
      }
    },
    {
      "mark": {
        "type": "text", "radius": 165, "font": "Liberation Serif", "fontSize": 18, "color": "#000",
        "align": "center", "baseline": "alphabetic",
        "dx": {"expr": "datum.cat === 'Café cereza' ? 41 : datum.cat === 'Frijol' ? 36 : datum.cat === 'Maíz grano' ? 131 : datum.cat === 'Trigo grano' ? -42 : -16"},
        "dy": {"expr": "datum.cat === 'Café cereza' ? 20 : datum.cat === 'Frijol' ? 28 : datum.cat === 'Maíz grano' ? 7 : datum.cat === 'Trigo grano' ? 14 : 19"}
      },
      "encoding": {
        "theta": {"field": "share", "type": "quantitative", "stack": true},
        "order": {"field": "orden", "type": "quantitative"},
        "detail": {"field": "cat", "type": "nominal"},
        "text": {"field": "share", "type": "quantitative", "format": ".0%"}
      }
    }
  ]
}
